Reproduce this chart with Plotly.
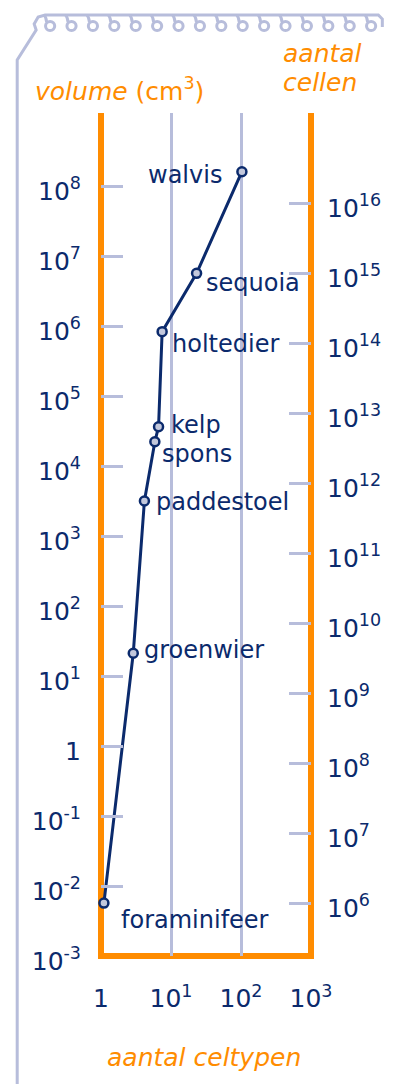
import numpy as np
import plotly.graph_objects as go

# ---------------- data ----------------
organisms = ["foraminifeer", "groenwier", "paddestoel", "spons", "kelp",
             "holtedier", "sequoia", "walvis"]
cell_types = [1.10, 2.89, 4.17, 5.88, 6.64, 7.47, 23.2, 103.0]
volume_cm3 = [0.0057, 21.1, 3162, 22200, 36400, 8.3e5, 5.66e6, 1.6e8]

volume_ticks = [1e-3, 1e-2, 1e-1, 1, 1e1, 1e2, 1e3, 1e4, 1e5, 1e6, 1e7, 1e8]
volume_labels = ["10<sup>-3</sup>", "10<sup>-2</sup>", "10<sup>-1</sup>", "1",
                 "10<sup>1</sup>", "10<sup>2</sup>", "10<sup>3</sup>", "10<sup>4</sup>",
                 "10<sup>5</sup>", "10<sup>6</sup>", "10<sup>7</sup>", "10<sup>8</sup>"]
cell_ticks = [1e6, 1e7, 1e8, 1e9, 1e10, 1e11, 1e12, 1e13, 1e14, 1e15, 1e16]
cell_labels = ["10<sup>6</sup>", "10<sup>7</sup>", "10<sup>8</sup>", "10<sup>9</sup>",
               "10<sup>10</sup>", "10<sup>11</sup>", "10<sup>12</sup>", "10<sup>13</sup>",
               "10<sup>14</sup>", "10<sup>15</sup>", "10<sup>16</sup>"]
celltype_ticks = [1, 10, 100, 1000]
celltype_labels = ["1", "10<sup>1</sup>", "10<sup>2</sup>", "10<sup>3</sup>"]

# ---------------- layout geometry (page pixels) ----------------
OFF = 8                      # default body margin of the html page
W, H = 401 - OFF, 1084 - OFF
X0, X1, Y0, Y1 = 101, 311.5, 113, 956   # plot area in page pixels
L, R = X0 - OFF, W - (X1 - OFF)
T, B = Y0 - OFF, H - (Y1 - OFF)
PW, PH = X1 - X0, Y1 - Y0

NAVY = "#0b2a6c"
ORANGE = "#ff8c00"
GREY = "#b7bddb"
FONT = "DejaVu Sans"

# label placement: (xanchor, xshift, yshift) in pixels
label_style = [("left", 17, -17), ("left", 11, 3), ("left", 12, -1), ("left", 7, -12),
               ("left", 12, 2), ("left", 10, -12), ("left", 9, -10), ("right", -20, -3)]


def px(x):
    return (x - X0) / PW


def py(y):
    return (Y1 - y) / PH


fig = go.Figure()
fig.add_trace(go.Scatter(
    x=cell_types, y=volume_cm3, mode="lines+markers",
    line=dict(color=NAVY, width=3),
    marker=dict(size=9, color="#c3c8dc", line=dict(color=NAVY, width=2.5)),
    hoverinfo="skip", showlegend=False, cliponaxis=False))
fig.add_trace(go.Scatter(x=[None], y=[None], yaxis="y2", showlegend=False,
                         hoverinfo="skip"))

for name, cx, vy, (anc, xs, ys) in zip(organisms, cell_types, volume_cm3, label_style):
    fig.add_annotation(x=np.log10(cx), y=np.log10(vy), xref="x", yref="y",
                       text=name, showarrow=False, xanchor=anc, yanchor="middle",
                       xshift=xs, yshift=ys, borderpad=0, borderwidth=0,
                       font=dict(family=FONT, size=24, color=NAVY))

# axis titles
title_font = dict(family=FONT, size=25, color=ORANGE)
for txt, xx, yy in [("<i>volume</i> (cm<sup>3</sup>)", 34, 89),
                    ("<i>aantal</i>", 282, 54),
                    ("<i>cellen</i>", 282, 82),
                    ("<i>aantal celtypen</i>", 106, 1057)]:
    fig.add_annotation(x=px(xx), y=py(yy), xref="paper", yref="paper", text=txt,
                       showarrow=False, xanchor="left", yanchor="middle",
                       borderpad=0, font=title_font)

shapes = []
# orange frame (left, bottom, right)
ex = 3 / PW
ey = 3 / PH
for x0, y0, x1, y1 in [(0, -ey, 0, 1), (-ex, 0, 1 + ex, 0), (1, -ey, 1, 1)]:
    shapes.append(dict(type="line", xref="paper", yref="paper", x0=x0, y0=y0,
                       x1=x1, y1=y1, line=dict(color=ORANGE, width=6),
                       layer="between"))

# notebook decoration: left border and spiral binding
border = [(17, 1090), (17, 60), (36, 30), (34, 24), (38, 17), (45, 15), (379, 15),
          (383, 19), (383, 27)]
path = "M " + " L ".join(f"{px(a):.5f},{py(b):.5f}" for a, b in border)
shapes.append(dict(type="path", xref="paper", yref="paper", path=path,
                   line=dict(color=GREY, width=3), layer="below"))
r = 4.6
for i in range(16):
    cx = 50 + 21.45 * i
    shapes.append(dict(type="circle", xref="paper", yref="paper",
                       x0=px(cx - r), x1=px(cx + r), y0=py(26 - r), y1=py(26 + r),
                       line=dict(color=GREY, width=3), layer="below"))
    conn = (f"M {px(cx - 6):.5f},{py(15):.5f} Q {px(cx - 4):.5f},{py(17):.5f} "
            f"{px(cx - 3.5):.5f},{py(22):.5f}")
    shapes.append(dict(type="path", xref="paper", yref="paper", path=conn,
                       line=dict(color=GREY, width=3), layer="below"))

tick_font = dict(family=FONT, size=25, color=NAVY)
fig.update_layout(
    width=W, height=H,
    margin=dict(l=L, r=R, t=T, b=B, pad=0, autoexpand=False),
    paper_bgcolor="white", plot_bgcolor="white",
    shapes=shapes,
    xaxis=dict(type="log", range=[0, 3], tickmode="array", tickvals=celltype_ticks,
               ticktext=celltype_labels, showgrid=True, gridcolor=GREY, gridwidth=3,
               zeroline=False, showline=False, ticks="", ticklabelstandoff=25,
               tickfont=tick_font, fixedrange=True),
    yaxis=dict(type="log", range=[-3, 9.043], tickmode="array", tickvals=volume_ticks,
               ticktext=volume_labels, showgrid=False, zeroline=False, showline=False,
               ticks="inside", ticklen=22, tickwidth=3, tickcolor=GREY,
               ticklabelstandoff=19, ticklabelshift=5,
               tickfont=tick_font, fixedrange=True),
    yaxis2=dict(type="log", range=[5.243, 17.286], overlaying="y", side="right",
                tickmode="array", tickvals=cell_ticks, ticktext=cell_labels,
                showgrid=False, zeroline=False, showline=False,
                ticks="inside", ticklen=22, tickwidth=3, tickcolor=GREY,
                ticklabelstandoff=15, ticklabelshift=5,
                tickfont=tick_font, fixedrange=True),
)

fig.write_html("out.html")
